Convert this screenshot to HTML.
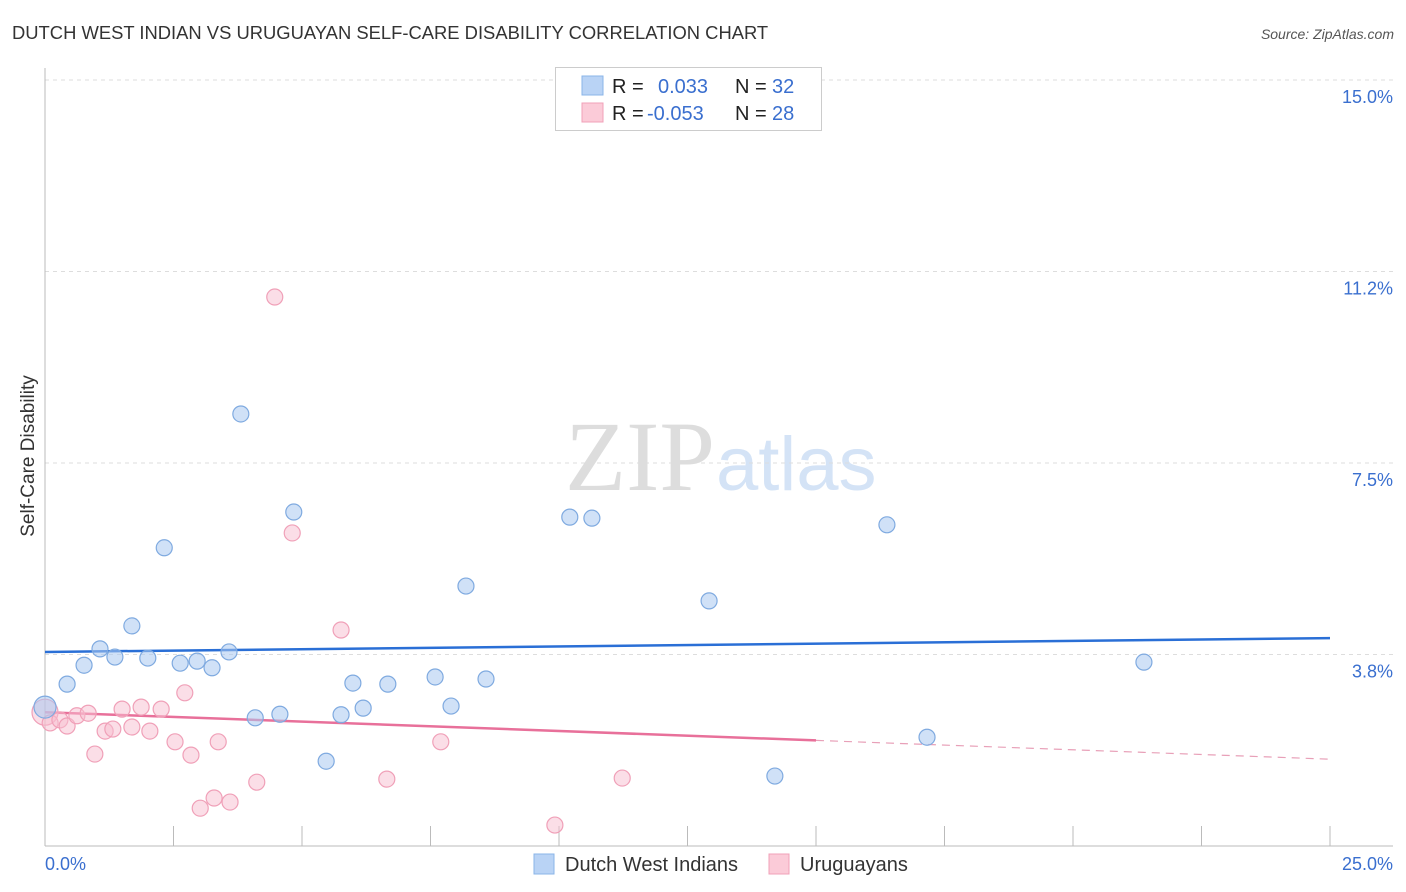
<!DOCTYPE html>
<html><head><meta charset="utf-8"><style>
body{margin:0;background:#fff;font-family:"Liberation Sans",sans-serif;}
#wrap{position:relative;width:1406px;height:892px;overflow:hidden;}
</style></head><body>
<div id="wrap">
<svg id="svg" width="1406" height="892" xmlns="http://www.w3.org/2000/svg" font-family="Liberation Sans, sans-serif">
<text x="12" y="39" font-size="18.4" fill="#333">DUTCH WEST INDIAN VS URUGUAYAN SELF-CARE DISABILITY CORRELATION CHART</text>
<text x="1394" y="39" font-size="14" fill="#555" font-style="italic" text-anchor="end">Source: ZipAtlas.com</text>
<text x="34" y="456" font-size="19" fill="#333" text-anchor="middle" transform="rotate(-90 34 456)">Self-Care Disability</text>
<text x="715" y="490" font-size="100" fill="#ddd" font-family="Liberation Serif, serif" text-anchor="end">ZIP</text>
<text x="716" y="490" font-size="76" fill="#d4e3f6">atlas</text>
<g id="grid"></g><g id="axes"></g><g id="trend"></g><g id="pts"></g>
<g>
<rect x="555.5" y="67.5" width="266" height="63" fill="#fff" stroke="#ccc"/>
<rect x="582" y="76" width="21" height="19" fill="#b9d3f5" stroke="#8ab4e8"/>
<text x="612" y="93" font-size="20" fill="#222">R =</text><text x="658" y="93" font-size="20" fill="#3a6fcf">0.033</text>
<text x="735" y="93" font-size="20" fill="#222">N =</text><text x="772" y="93" font-size="20" fill="#3a6fcf">32</text>
<rect x="582" y="103" width="21" height="19" fill="#fbcbd8" stroke="#f0a0b8"/>
<text x="612" y="120" font-size="20" fill="#222">R =</text><text x="647" y="120" font-size="20" fill="#3a6fcf">-0.053</text>
<text x="735" y="120" font-size="20" fill="#222">N =</text><text x="772" y="120" font-size="20" fill="#3a6fcf">28</text>
</g>
<g>
<rect x="534" y="854" width="20" height="20" fill="#b9d3f5" stroke="#8ab4e8"/>
<text x="565" y="871" font-size="20" fill="#333">Dutch West Indians</text>
<rect x="769" y="854" width="20" height="20" fill="#fbcbd8" stroke="#f0a0b8"/>
<text x="800" y="871" font-size="20" fill="#333">Uruguayans</text>
</g>
</svg></div>
<script>
const yTicks=[3.75,7.5,11.25,15];
const yTickLabels=["3.8%","7.5%","11.2%","15.0%"];
const blueX=[0,0.43,0.76,1.07,1.36,1.69,2.00,2.32,2.63,2.96,3.25,3.58,3.81,4.09,4.57,4.84,5.47,5.76,5.99,6.19,6.67,7.59,7.90,8.19,8.58,10.21,10.64,12.92,14.20,16.38,17.16,21.38];
const blueY=[2.72,3.17,3.54,3.86,3.70,4.31,3.68,5.84,3.58,3.62,3.49,3.80,8.46,2.51,2.58,6.54,1.66,2.57,3.19,2.70,3.17,3.31,2.74,5.09,3.27,6.44,6.42,4.80,1.37,6.29,2.13,3.60];
const pinkX=[0,0.10,0.29,0.43,0.62,0.84,0.97,1.17,1.32,1.50,1.69,1.87,2.04,2.26,2.53,2.72,2.84,3.02,3.29,3.37,3.60,4.12,4.47,4.81,5.76,6.65,7.70,9.92,11.23];
const pinkY=[2.62,2.41,2.47,2.35,2.55,2.60,1.80,2.25,2.29,2.68,2.33,2.72,2.25,2.68,2.04,3.00,1.78,0.74,0.94,2.04,0.86,1.25,10.75,6.13,4.23,1.31,2.04,0.41,1.33];
const blueTrend=[3.80,4.07];
const pinkTrend=[2.62,1.70];
const pinkSolidEnd=15;
const X=v=>45+v/25*1285, Y=v=>846-v/15*766;
const NS="http://www.w3.org/2000/svg";
function mk(t,a,p){const e=document.createElementNS(NS,t);for(const k in a)e.setAttribute(k,a[k]);document.getElementById(p).appendChild(e);return e;}
yTicks.forEach((t,i)=>{
 const l=mk('line',{x1:45,x2:1393,y1:Y(t),y2:Y(t),stroke:'#ddd','stroke-dasharray':'4,4'},'grid');
 
 
 const tx=mk('text',{x:1393,y:Y(t)+23,'font-size':18,fill:'#3a6fcf','text-anchor':'end'},'grid');tx.textContent=yTickLabels[i];
 
 
});
let a=mk('line',{x1:45,x2:45,y1:68,y2:846,stroke:'#bbb'},'axes');


a=mk('line',{x1:45,x2:1393,y1:846,y2:846,stroke:'#bbb'},'axes');


for(let i=0;i<=10;i++){const t=mk('line',{x1:X(i*2.5),x2:X(i*2.5),y1:826,y2:846,stroke:'#bbb'},'axes');
 
 }
let t0=mk('text',{x:45,y:870,'font-size':18,fill:'#3a6fcf'},'axes');t0.textContent='0.0%';


t0=mk('text',{x:1393,y:870,'font-size':18,fill:'#3a6fcf','text-anchor':'end'},'axes');t0.textContent='25.0%';


let tl=mk('line',{x1:X(0),x2:X(25),y1:Y(blueTrend[0]),y2:Y(blueTrend[1]),stroke:'#2a6fd6','stroke-width':2.5},'trend');


const pm=pinkTrend[0]+(pinkTrend[1]-pinkTrend[0])*pinkSolidEnd/25;
tl=mk('line',{x1:X(0),x2:X(pinkSolidEnd),y1:Y(pinkTrend[0]),y2:Y(pm),stroke:'#e8709a','stroke-width':2.5},'trend');


tl=mk('line',{x1:X(pinkSolidEnd),x2:X(25),y1:Y(pm),y2:Y(pinkTrend[1]),stroke:'#e8a0b8','stroke-width':1.2,'stroke-dasharray':'8,6'},'trend');


pinkX.forEach((v,i)=>{const c=mk('circle',{cx:X(v),cy:Y(pinkY[i]),r:i==0?13:8,fill:'rgba(248,190,208,0.5)',stroke:'#f0a0b8','stroke-width':1.2},'pts');
 
 });
blueX.forEach((v,i)=>{const c=mk('circle',{cx:X(v),cy:Y(blueY[i]),r:i==0?11:8,fill:'rgba(170,200,240,0.55)',stroke:'#7faae0','stroke-width':1.2},'pts');
 
 });
</script>
</body></html>
